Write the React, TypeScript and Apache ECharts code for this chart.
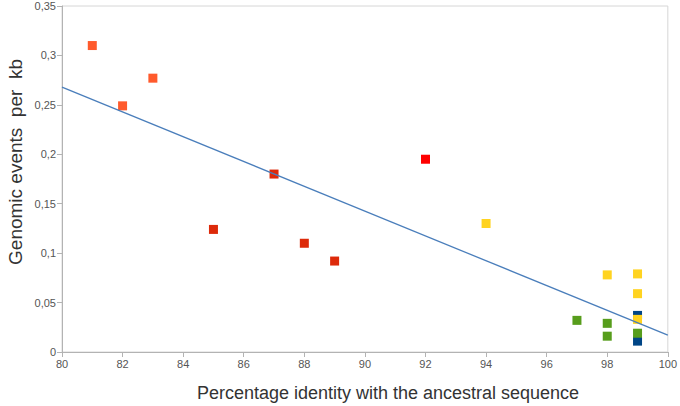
import React, { useEffect, useRef } from "react";
import * as echarts from "echarts";

const xTicks = [80, 82, 84, 86, 88, 90, 92, 94, 96, 98, 100];
const yTickLabels = ["0", "0,05", "0,1", "0,15", "0,2", "0,25", "0,3", "0,35"];

const orangeX = [81, 82, 83];
const orangeY = [0.31, 0.249, 0.277];
const darkRedX = [85, 87, 88, 89];
const darkRedY = [0.124, 0.18, 0.11, 0.092];
const redX = [92];
const redY = [0.195];
const yellowX = [94, 98, 99, 99, 99];
const yellowY = [0.13, 0.078, 0.079, 0.059, 0.033];
const greenX = [97, 98, 98, 99];
const greenY = [0.032, 0.029, 0.016, 0.019];
const blueX = [99, 99];
const blueY = [0.037, 0.011];
const trendX = [80, 100];
const trendY = [0.268, 0.017];

const xTitle = "Percentage identity with the ancestral sequence";
const yTitle = "Genomic events  per  kb";

const zip = (xs: number[], ys: number[]) => xs.map((x, i) => [x, ys[i]]);

export default function App() {
  const ref = useRef<HTMLDivElement>(null);
  useEffect(() => {
    const chart = echarts.init(ref.current!, null, { renderer: "svg" });
    const font = "'Liberation Sans', Arial, sans-serif";
    const scatter = (name: string, xs: number[], ys: number[], color: string) => ({
      name,
      type: "scatter",
      data: zip(xs, ys),
      symbol: "rect",
      symbolSize: 9,
      itemStyle: { color, opacity: 1 },
      z: 3,
    });
    chart.setOption({
      animation: false,
      grid: {
        left: 62,
        right: 12,
        top: 6,
        bottom: 54,
        show: true,
        borderColor: "#d6d6d6",
        borderWidth: 1,
      },
      xAxis: {
        type: "value",
        min: 80,
        max: 100,
        interval: 2,
        axisLine: { show: true, onZero: false, lineStyle: { color: "#b3b3b3" } },
        axisTick: { show: true, length: 5, lineStyle: { color: "#b3b3b3" } },
        splitLine: { show: false },
        axisLabel: {
          color: "#555",
          fontFamily: font,
          fontSize: 11,
          margin: 6,
          formatter: (v: number) => (xTicks.includes(v) ? String(v) : ""),
        },
      },
      yAxis: {
        type: "value",
        min: 0,
        max: 0.35,
        interval: 0.05,
        axisLine: { show: true, onZero: false, lineStyle: { color: "#b3b3b3" } },
        axisTick: { show: true, length: 5, lineStyle: { color: "#b3b3b3" } },
        splitLine: { show: false },
        axisLabel: {
          color: "#555",
          fontFamily: font,
          fontSize: 11,
          margin: 6,
          formatter: (v: number) => yTickLabels[Math.round(v / 0.05)] ?? "",
        },
      },
      graphic: [
        {
          type: "text",
          x: 388,
          y: 393,
          style: {
            text: xTitle,
            fill: "#333",
            font: `18px ${font}`,
            textAlign: "center",
            textVerticalAlign: "middle",
          },
        },
        {
          type: "text",
          x: 15,
          y: 162,
          rotation: Math.PI / 2,
          style: {
            text: yTitle,
            fill: "#333",
            font: `19px ${font}`,
            textAlign: "center",
            textVerticalAlign: "middle",
          },
        },
      ],
      series: [
        scatter("blue", blueX, blueY, "#004586"),
        scatter("green", greenX, greenY, "#579D1C"),
        scatter("yellow", yellowX, yellowY, "#FFD320"),
        scatter("orange", orangeX, orangeY, "#FF5A2C"),
        scatter("darkred", darkRedX, darkRedY, "#DD2A0A"),
        scatter("red", redX, redY, "#FF0000"),
        {
          name: "trend",
          type: "line",
          data: zip(trendX, trendY),
          symbol: "none",
          lineStyle: { color: "#4A7EBB", width: 1.3 },
          z: 4,
        },
      ],
    });
    return () => chart.dispose();
  }, []);
  return (
    <div
      ref={ref}
      style={{ position: "fixed", left: 0, top: 0, width: 680, height: 406, background: "#fff" }}
    />
  );
}
